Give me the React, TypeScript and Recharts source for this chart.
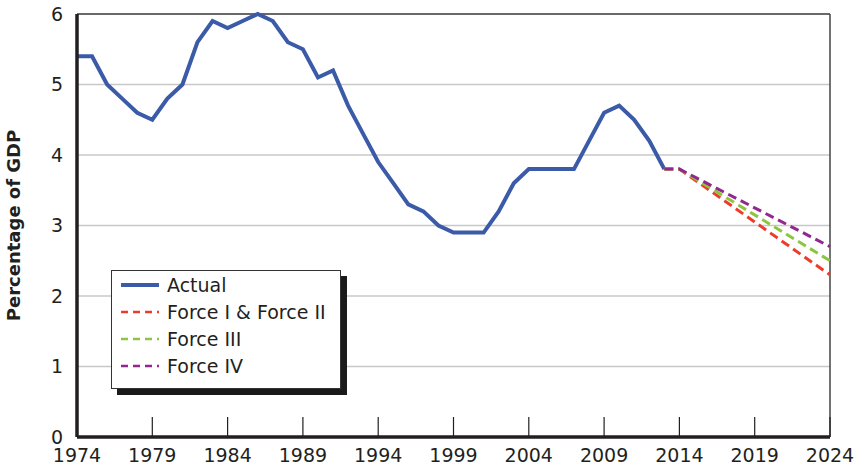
import React from "react"
import {
  CartesianGrid,
  Legend,
  Line,
  LineChart,
  ReferenceLine,
  XAxis,
  YAxis,
} from "recharts"

// spending as share of GDP, 1974-2013 actual, then projections to 2024
const years = Array.from({ length: 51 }, (_, i) => 1974 + i)

const actual = [
  5.4, 5.4, 5.0, 4.8, 4.6, 4.5, 4.8, 5.0, 5.6, 5.9,
  5.8, 5.9, 6.0, 5.9, 5.6, 5.5, 5.1, 5.2, 4.7, 4.3,
  3.9, 3.6, 3.3, 3.2, 3.0, 2.9, 2.9, 2.9, 3.2, 3.6,
  3.8, 3.8, 3.8, 3.8, 4.2, 4.6, 4.7, 4.5, 4.2, 3.8,
]

// projections only read at their break points (2013, 2014, 2024)
const projYears = [2013, 2014, 2024]
const forceI_II = [3.8, 3.8, 2.3]
const forceIII = [3.8, 3.8, 2.5]
const forceIV = [3.8, 3.8, 2.7]

const xTicks = [1974, 1979, 1984, 1989, 1994, 1999, 2004, 2009, 2014, 2019, 2024]
const yTicks = [0, 1, 2, 3, 4, 5, 6]

const series = [
  { key: "actual", name: "Actual", color: "#3b5ba9", dashed: false },
  { key: "f12", name: "Force I & Force II", color: "#ef3b2c", dashed: true },
  { key: "f3", name: "Force III", color: "#8cc63f", dashed: true },
  { key: "f4", name: "Force IV", color: "#92278f", dashed: true },
]

const data = years.map((year, i) => {
  const p = projYears.indexOf(year)
  return {
    year,
    actual: i < actual.length ? actual[i] : undefined,
    f12: p >= 0 ? forceI_II[p] : undefined,
    f3: p >= 0 ? forceIII[p] : undefined,
    f4: p >= 0 ? forceIV[p] : undefined,
  }
})

const font = "'DejaVu Sans', sans-serif"
const ink = "#231f20"

function XTick(props: any) {
  const { x, y, payload } = props
  return (
    <g>
      <line x1={x} x2={x} y1={y - 20} y2={y} stroke={ink} strokeWidth={1.2} />
      <text
        x={x}
        y={y + 12}
        dy="0.71em"
        textAnchor="middle"
        fill={ink}
        fontSize={19}
        fontFamily={font}
      >
        {payload.value}
      </text>
    </g>
  )
}

function LegendBox() {
  return (
    <div
      style={{
        width: 230,
        height: 119,
        border: "1px solid #333",
        background: "#fff",
        boxShadow: "6px 6px 0 #1a1a1a",
        padding: "0 0 0 9px",
        boxSizing: "border-box",
        fontFamily: font,
        fontSize: 19,
        color: ink,
      }}
    >
      {series.map((s) => (
        <div key={s.key} style={{ display: "flex", alignItems: "center", height: 27 }}>
          <svg width={38} height={6} style={{ marginRight: 8 }}>
            <line
              x1={0}
              x2={38}
              y1={3}
              y2={3}
              stroke={s.color}
              strokeWidth={s.dashed ? 2.5 : 4}
              strokeDasharray={s.dashed ? "7 5" : undefined}
            />
          </svg>
          <span>{s.name}</span>
        </div>
      ))}
    </div>
  )
}

export default function App() {
  return (
    <div style={{ position: "absolute", left: 0, top: 0, background: "#fff" }}>
      <LineChart
        width={856}
        height={469}
        data={data}
        margin={{ top: 14, right: 26, bottom: 0, left: 0 }}
      >
        <CartesianGrid vertical={false} stroke="#c8c8c8" strokeWidth={1.5} />
        <XAxis
          dataKey="year"
          type="number"
          domain={[1974, 2024]}
          ticks={xTicks}
          interval={0}
          height={32}
          tickSize={0}
          tickMargin={0}
          tick={<XTick />}
          axisLine={{ stroke: ink, strokeWidth: 3.5 }}
          tickLine={false}
        />
        <YAxis
          type="number"
          domain={[0, 6]}
          ticks={yTicks}
          width={77}
          tickSize={0}
          tickMargin={14}
          tickLine={false}
          axisLine={{ stroke: ink, strokeWidth: 3.5 }}
          tick={{ fill: ink, fontSize: 19, fontFamily: font }}
          label={{
            value: "Percentage of GDP",
            angle: -90,
            position: "insideLeft",
            offset: 14,
            style: { textAnchor: "middle", fontWeight: 700, fontSize: 18, fill: ink, fontFamily: font },
          }}
        />
        <ReferenceLine y={6} stroke="#444" strokeWidth={1.5} />
        <ReferenceLine x={2024} stroke="#444" strokeWidth={1.5} />
        {series.map((s) => (
          <Line
            key={s.key}
            dataKey={s.key}
            name={s.name}
            type="linear"
            stroke={s.color}
            strokeWidth={s.dashed ? 3 : 4}
            strokeDasharray={s.dashed ? "9 5" : undefined}
            dot={false}
            activeDot={false}
            connectNulls
            isAnimationActive={false}
          />
        ))}
        <Legend
          layout="vertical"
          align="center"
          verticalAlign="middle"
          content={<LegendBox />}
          wrapperStyle={{ position: "absolute", left: 111, top: 270, width: "auto" }}
        />
      </LineChart>
    </div>
  )
}
